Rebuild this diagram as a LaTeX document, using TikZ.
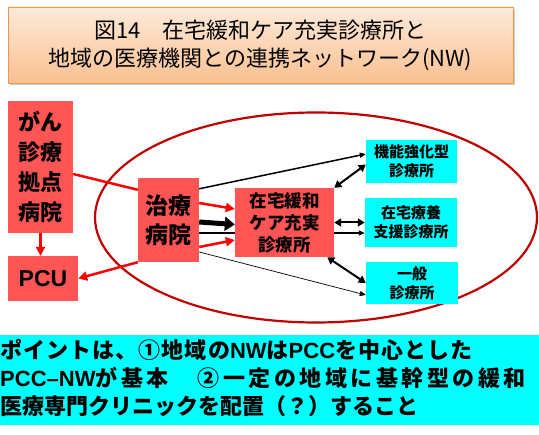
\documentclass[tikz,border=0pt]{standalone}
\usepackage{fontspec}
\setmainfont{Noto Sans CJK JP}
\newfontfamily\latfont{Liberation Sans}
\usetikzlibrary{arrows.meta,shadows}
\pgfdeclarelayer{bg}
\pgfsetlayers{bg,main}
\definecolor{boxred}{RGB}{255,85,85}
\definecolor{ellred}{RGB}{192,0,0}
\definecolor{cyanbox}{RGB}{0,255,255}
\definecolor{ttop}{RGB}{253,234,218}
\definecolor{tbot}{RGB}{250,192,144}
\definecolor{tborder}{RGB}{247,150,70}
\newcommand\lt[1]{{\latfont #1}}
\tikzset{
  redbox/.style={fill=boxred, inner sep=0pt, align=center, font=\bfseries\fontsize{22}{30}\selectfont},
  smallred/.style={fill=boxred, inner sep=0pt, align=center, font=\bfseries\fontsize{17.5}{22}\selectfont},
  cybox/.style={fill=cyanbox, inner sep=0pt, align=center, font=\bfseries\fontsize{15}{19}\selectfont},
  redarrow/.style={draw=red, line width=2.5pt, -{Triangle[length=9pt,width=9pt]}},
  redline/.style={draw=red, line width=2.5pt},
  blkarrow/.style={draw=black, -{Triangle[length=6pt,width=5pt]}},
  dblarrow/.style={draw=black, line width=2pt, {Triangle[length=7pt,width=8pt]}-{Triangle[length=7pt,width=8pt]}},
  noteline/.style={anchor=west, inner sep=0pt},
}
\begin{document}
\begin{tikzpicture}[x=1pt,y=-1pt]
\useasboundingbox (0,0) rectangle (539,435);
% title
\node[draw=tborder, line width=0.8pt, top color=ttop, bottom color=tbot,
  drop shadow={shadow xshift=2pt, shadow yshift=-2pt, fill=black!40},
  minimum width=505, minimum height=76, inner sep=0pt, align=center,
  font=\fontsize{22}{28}\selectfont] (title) at (260.5,45)
  {図14　在宅緩和ケア充実診療所と\\地域の医療機関との連携ネットワーク(NW)};
% ellipse
\draw[ellred, line width=2.2pt] (316,217.5) ellipse [x radius=221, y radius=105];
% boxes
\node[redbox, minimum width=65, minimum height=132] (gan) at (40.5,167) {がん\\診療\\拠点\\病院};
\node[redbox, minimum width=70, minimum height=45, font=\bfseries\latfont\fontsize{23}{28}\selectfont] (pcu) at (43,278.5) {PCU};
\node[redbox, minimum width=61, minimum height=84, font=\bfseries\fontsize{23}{29}\selectfont] (chiryo) at (168.5,220) {治療\\病院};
\node[smallred, minimum width=99, minimum height=69] (zaitaku) at (284.5,222.5) {在宅緩和\\ケア充実\\診療所};
\node[cybox, minimum width=91, minimum height=43] (c1) at (411.5,161.5) {機能強化型\\診療所};
\node[cybox, minimum width=92, minimum height=49] (c2) at (411,222.5) {在宅療養\\支援診療所};
\node[cybox, minimum width=92, minimum height=42] (c3) at (412,283) {一般\\診療所};
% connectors
\draw[redline] ([yshift=-7pt]gan.east) -- ([yshift=-12pt]chiryo.north west);
\draw[redarrow] (gan.south) -- (gan.south |- pcu.north);
\draw[redarrow] (chiryo.south west) -- (pcu.east);
\draw[redarrow] ([yshift=17pt]chiryo.east) -- ([yshift=13.5pt]zaitaku.west);
\draw[redarrow] ([yshift=-27pt]chiryo.east) -- ([yshift=-17.5pt]zaitaku.west);
\draw[line width=5pt, -{Triangle[length=10pt,width=14pt]}] ([yshift=-2pt]chiryo.east) -- ([yshift=-2pt]zaitaku.west);
\begin{pgfonlayer}{bg}
\draw[blkarrow, line width=1.2pt] ([yshift=-13pt]chiryo.east) -- ([yshift=-10.5pt]c2.west);
\end{pgfonlayer}
\draw[blkarrow, line width=1.5pt] ([yshift=-11pt]chiryo.north east) -- ([yshift=7.5pt]c1.west);
\draw[blkarrow, line width=0.7pt] ([yshift=-32pt]chiryo.east) -- ([yshift=-12pt]c3.west);
\draw[dblarrow] (zaitaku.north east) -- ([yshift=-3pt]c1.west);
\draw[dblarrow] (zaitaku.east) -- (c2.west);
\draw[dblarrow] ([xshift=-7pt]zaitaku.south east) -- (c3.west);
% bottom note
\fill[cyanbox] (0,335) rectangle (539,425);
\begin{scope}[every node/.style={noteline, font=\bfseries\fontsize{22}{28}\selectfont}]
\node (note1) at (0,350) {\addfontfeature{LetterSpace=5}ポイントは、①地域の\lt{NW}は\lt{PCC}を中心とした};
\node (note2) at (0,378) {\addfontfeature{LetterSpace=16}\lt{PCC–NW}が基本　②一定の地域に基幹型の緩和};
\node (note3) at (0,406) {医療専門クリニックを配置（？）すること};
\end{scope}
\end{tikzpicture}
\end{document}
